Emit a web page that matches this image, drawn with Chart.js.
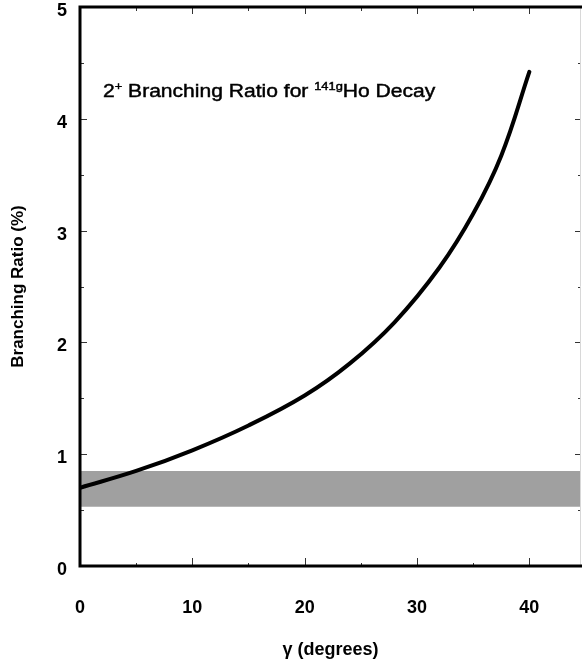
<!DOCTYPE html>
<html>
<head>
<meta charset="utf-8">
<script src="https://cdn.jsdelivr.net/npm/chart.js@4/dist/chart.umd.min.js"></script>
<style>
  html, body { margin: 0; padding: 0; background: #fff; overflow: hidden; }
  #wrap { width: 582px; height: 666px; position: relative; }
</style>
</head>
<body>
<div id="wrap"><canvas id="chart"></canvas></div>
<script>
// curve
const gammaDeg = [0, 5, 10, 15, 20, 24, 28, 32, 35, 37.5, 40];
const branchRatio = [0.70, 0.85, 1.035, 1.257, 1.525, 1.81, 2.18, 2.67, 3.15, 3.67, 4.42];
// experimental band (lower, upper)
const bandRange = [0.53, 0.85];

const xTicks = [0, 10, 20, 30, 40];
const xMinor = [5, 15, 25, 35];
const yTicks = [0, 1, 2, 3, 4, 5];
const yMinor = [0.5, 1.5, 2.5, 3.5, 4.5];
const xMin = 0, xMax = 44.6;

const FONT = "'Liberation Sans', Arial, Helvetica, sans-serif";

// frame + inside tick marks + in-plot label
const framePlugin = {
  id: "frame",
  afterDatasetsDraw(chart) {
    const { ctx, chartArea: a, scales: { x, y } } = chart;
    ctx.save();

    // tick marks
    ctx.strokeStyle = "#333";
    ctx.lineWidth = 1;
    const tick = (x1, y1, x2, y2) => {
      ctx.beginPath(); ctx.moveTo(x1, y1); ctx.lineTo(x2, y2); ctx.stroke();
    };
    xTicks.forEach(v => {
      const px = Math.round(x.getPixelForValue(v)) + 0.5;
      tick(px, a.bottom, px, a.bottom - 8);
      tick(px, a.top, px, a.top + 7);
    });
    xMinor.forEach(v => {
      const px = Math.round(x.getPixelForValue(v)) + 0.5;
      tick(px, a.bottom, px, a.bottom - 3);
      tick(px, a.top, px, a.top + 4);
    });
    yTicks.forEach(v => {
      const py = Math.round(y.getPixelForValue(v)) + 0.5;
      tick(a.left, py, a.left + 7, py);
      tick(a.right, py, a.right - 6, py);
    });
    yMinor.forEach(v => {
      const py = Math.round(y.getPixelForValue(v)) + 0.5;
      tick(a.left, py, a.left + 4, py);
      tick(a.right, py, a.right - 3, py);
    });

    // faint right edge
    ctx.strokeStyle = "#d8d8d8";
    tick(a.right - 0.5, a.top, a.right - 0.5, a.bottom);

    // heavy frame: left, bottom, top
    ctx.strokeStyle = "#000";
    ctx.lineWidth = 3;
    ctx.beginPath();
    ctx.moveTo(a.right + 2, a.top);
    ctx.lineTo(a.left, a.top);
    ctx.lineTo(a.left, a.bottom);
    ctx.lineTo(a.right + 2, a.bottom);
    ctx.stroke();

    // label: 2+ Branching Ratio for 141gHo Decay (wide face, so stretch a bit)
    const parts = [
      ["2", false], ["+", true], [" Branching Ratio for ", false],
      ["141g", true], ["Ho Decay", false]
    ];
    const stretch = 1.17;
    const base = 97;
    ctx.translate(103, 0);
    ctx.scale(stretch, 1);
    let tx = 0;
    ctx.fillStyle = "#000";
    ctx.strokeStyle = "#000";
    ctx.lineWidth = 0.45;
    ctx.textBaseline = "alphabetic";
    ctx.textAlign = "left";
    parts.forEach(([s, sup]) => {
      ctx.font = sup ? `11px ${FONT}` : `18px ${FONT}`;
      const ty = sup ? base - 7 : base;
      ctx.fillText(s, tx, ty);
      ctx.strokeText(s, tx, ty);
      tx += ctx.measureText(s).width;
    });
    ctx.restore();
  }
};

const ctx = document.getElementById("chart").getContext("2d");
new Chart(ctx, {
  type: "line",
  data: {
    datasets: [
      {
        label: "2+ branching ratio",
        data: gammaDeg.map((g, i) => ({ x: g, y: branchRatio[i] })),
        borderColor: "#000",
        borderWidth: 4,
        borderCapStyle: "round",
        pointRadius: 0,
        tension: 0.4,
        fill: false,
      },
      {
        label: "band low",
        data: [{ x: xMin, y: bandRange[0] }, { x: xMax, y: bandRange[0] }],
        borderWidth: 0,
        pointRadius: 0,
        fill: false,
      },
      {
        label: "band high",
        data: [{ x: xMin, y: bandRange[1] }, { x: xMax, y: bandRange[1] }],
        borderWidth: 0,
        pointRadius: 0,
        backgroundColor: "#a0a0a0",
        fill: "-1",
      },
    ],
  },
  options: {
    responsive: true,
    maintainAspectRatio: false,
    animation: false,
    layout: { padding: { top: 7, right: 1, left: 0, bottom: 0 } },
    plugins: {
      legend: { display: false },
      tooltip: { enabled: false },
    },
    scales: {
      x: {
        type: "linear",
        min: xMin,
        max: xMax,
        afterBuildTicks: s => { s.ticks = xTicks.map(v => ({ value: v })); },
        afterFit: s => { s.height = 100; s.paddingLeft = 0; s.paddingRight = 0; },
        grid: { display: false, drawTicks: false },
        border: { display: false },
        ticks: {
          padding: 31,
          color: "#000",
          font: { family: FONT, size: 18, weight: "bold" },
          maxRotation: 0,
        },
        title: {
          display: true,
          text: "γ (degrees)",
          color: "#000",
          font: { family: FONT, size: 18, weight: "bold" },
          padding: { top: 0, bottom: 5 },
        },
      },
      y: {
        type: "linear",
        min: 0,
        max: 5,
        afterBuildTicks: s => { s.ticks = yTicks.map(v => ({ value: v })); },
        afterFit: s => { s.width = 80; s.paddingTop = 0; s.paddingBottom = 0; },
        grid: { display: false, drawTicks: false },
        border: { display: false },
        ticks: {
          padding: 13,
          labelOffset: 4,
          color: "#000",
          font: { family: FONT, size: 18, weight: "bold" },
        },
        title: {
          display: true,
          text: "Branching Ratio (%)",
          color: "#000",
          font: { family: FONT, size: 17, weight: "bold" },
          padding: { top: 8, bottom: 0 },
        },
      },
    },
  },
  plugins: [framePlugin],
});
</script>
</body>
</html>
